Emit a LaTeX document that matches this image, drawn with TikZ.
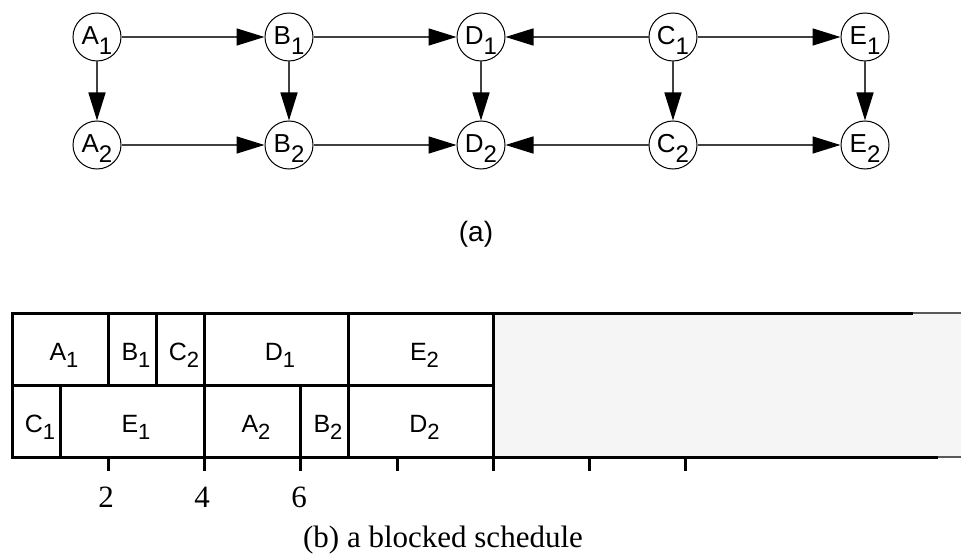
\documentclass[tikz,border=0pt]{standalone}
\usepackage{fontspec}
\setmainfont{Liberation Serif}
\setsansfont{Liberation Sans}
\usepackage{tikz}
\usetikzlibrary{arrows.meta}

\newcommand{\gsub}[2]{#1\raisebox{-10pt}{\fontsize{24}{24}\selectfont #2}}
\newcommand{\csub}[2]{#1\raisebox{-7pt}{\fontsize{22}{22}\selectfont #2}}

\tikzset{
	task/.style={shape=circle,draw=black,line width=1pt,minimum size=48pt,inner sep=0pt,
		text height=18pt,text depth=2pt,font=\sffamily\fontsize{26}{26}\selectfont},
	dep/.style={draw=black!75,line width=1.5pt,-{Triangle[length=28pt,width=17pt,color=black]}},
	cellbox/.style={draw=black,line width=3pt,
		nodes={text height=24pt,text depth=2pt,xshift=4pt,font=\sffamily\fontsize{25}{25}\selectfont}},
	tick/.style={draw=black,line width=3pt},
}

\begin{document}
\begin{tikzpicture}[x=1pt,y=-1pt]
	\useasboundingbox (0,0) rectangle (961,556);

	% (a) task graph
	\node[task] (A1) at (97, 37)   {\gsub{A}{1}};
	\node[task] (B1) at (289, 37)  {\gsub{B}{1}};
	\node[task] (D1) at (481, 37)  {\gsub{D}{1}};
	\node[task] (C1) at (673, 37)  {\gsub{C}{1}};
	\node[task] (E1) at (865, 37)  {\gsub{E}{1}};
	\node[task] (A2) at (97, 145)  {\gsub{A}{2}};
	\node[task] (B2) at (289, 145) {\gsub{B}{2}};
	\node[task] (D2) at (481, 145) {\gsub{D}{2}};
	\node[task] (C2) at (673, 145) {\gsub{C}{2}};
	\node[task] (E2) at (865, 145) {\gsub{E}{2}};

	\path[dep] (A1) edge (B1);
	\path[dep] (B1) edge (D1);
	\path[dep] (C1) edge (D1);
	\path[dep] (C1) edge (E1);
	\path[dep] (A2) edge (B2);
	\path[dep] (B2) edge (D2);
	\path[dep] (C2) edge (D2);
	\path[dep] (C2) edge (E2);
	\path[dep] (A1) edge (A2);
	\path[dep] (B1) edge (B2);
	\path[dep] (D1) edge (D2);
	\path[dep] (C1) edge (C2);
	\path[dep] (E1) edge (E2);

	\node[font=\sffamily\fontsize{28}{28}\selectfont] (capa) at (476, 234) {(a)};

	% (b) schedule
	\fill[black!4] (493, 313) rectangle (961, 457);
	\draw[draw=black!65,line width=2pt] (493, 313) -- (961, 313);
	\draw[draw=black!65,line width=2pt] (493, 457) -- (961, 457);
	\draw[line width=3pt] (12, 313) -- (913, 313);
	\draw[line width=3pt] (12, 457) -- (938, 457);

	\draw[cellbox] (12, 313) rectangle node (sA1) {\csub{A}{1}} (108, 385);
	\draw[cellbox] (108, 313) rectangle node (sB1) {\csub{B}{1}} (156, 385);
	\draw[cellbox] (156, 313) rectangle node (sC2) {\csub{C}{2}} (204, 385);
	\draw[cellbox] (204, 313) rectangle node (sD1) {\csub{D}{1}} (348, 385);
	\draw[cellbox] (348, 313) rectangle node (sE2) {\csub{E}{2}} (493, 385);
	\draw[cellbox] (12, 385) rectangle node (sC1) {\csub{C}{1}} (60, 457);
	\draw[cellbox] (60, 385) rectangle node (sE1) {\csub{E}{1}} (204, 457);
	\draw[cellbox] (204, 385) rectangle node (sA2) {\csub{A}{2}} (300, 457);
	\draw[cellbox] (300, 385) rectangle node (sB2) {\csub{B}{2}} (348, 457);
	\draw[cellbox] (348, 385) rectangle node (sD2) {\csub{D}{2}} (493, 457);

	\draw[tick] (108, 457) -- (108, 471);
	\draw[tick] (204, 457) -- (204, 471);
	\draw[tick] (300, 457) -- (300, 471);
	\draw[tick] (397, 457) -- (397, 471);
	\draw[tick] (493, 457) -- (493, 471);
	\draw[tick] (589, 457) -- (589, 471);
	\draw[tick] (685, 457) -- (685, 471);

	\node[font=\fontsize{31}{31}\selectfont] (t2) at (106, 497) {2};
	\node[font=\fontsize{31}{31}\selectfont] (t4) at (202, 497) {4};
	\node[font=\fontsize{31}{31}\selectfont] (t6) at (299, 497) {6};

	\node[font=\fontsize{31}{31}\selectfont] (capb) at (443, 540) {(b) a blocked schedule};
\end{tikzpicture}
\end{document}
